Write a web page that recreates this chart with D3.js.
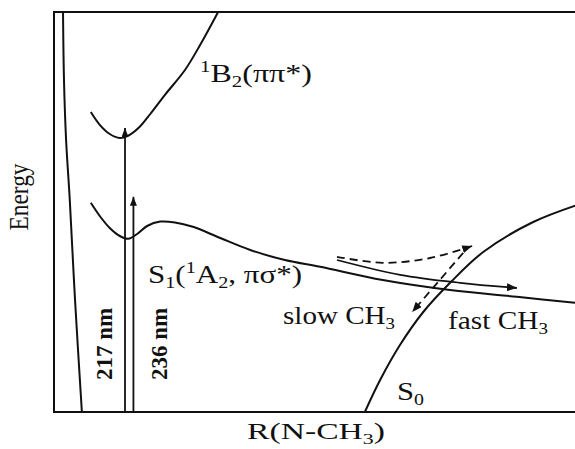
<!DOCTYPE html>
<html><head><meta charset="utf-8">
<script src="https://cdn.jsdelivr.net/npm/d3@7"></script>
<style>
body{margin:0;background:#fff}
text{font-family:"Liberation Serif","Times New Roman",serif;fill:#111}
</style>
</head><body><svg id="c" width="575" height="449"></svg>
<script>
// ---- data (arbitrary units: R along x 0..10, energy along y 0..10) ----
const s0Wall = [[0.17,10.2],[0.19,8.3],[0.23,6.8],[0.30,5.3],[0.40,2.8],[0.53,0]];
const b2Curve = [[0.70,7.50],[0.87,7.18],[1.06,6.95],[1.25,6.85],[1.44,6.93],[1.63,7.13],[1.83,7.45],[2.11,7.93],[2.49,8.55],[2.78,9.18],[3.12,10.0]];
const s1Curve = [[0.70,5.23],[0.87,4.90],[1.06,4.60],[1.25,4.40],[1.41,4.33],[1.58,4.45],[1.77,4.65],[2.02,4.76],[2.30,4.74],[2.64,4.63],[3.16,4.35],[3.73,4.05],[4.39,3.80],[5.06,3.63],[6.25,3.30],[7.53,3.05],[8.80,2.88],[10.0,2.72]];
const s0Curve = [[5.91,0],[6.20,0.80],[6.58,1.68],[7.02,2.50],[7.53,3.23],[8.16,4.00],[9.11,4.75],[10.0,5.20]];
const fastPath = [[5.38,3.80],[6.58,3.43],[7.72,3.23],[8.80,3.10]];
const slowPathA = [[5.38,3.88],[6.25,3.73],[7.15,3.85],[7.95,4.15]];
const slowPathB = [[7.78,3.98],[6.81,2.50]];
const excitations = [{nm:"217 nm", r:1.35, e:7.1},{nm:"236 nm", r:1.51, e:5.38}];
const stateLabels = [
  {key:"B2", parts:[["sup","1"],["","B"],["sub","2"],["","(ππ*)"]]},
  {key:"S1", parts:[["","S"],["sub","1"],["","("],["sup","1"],["","A"],["sub","2"],["",", πσ*)"]]},
  {key:"slow", parts:[["","slow CH"],["sub","3"]]},
  {key:"fast", parts:[["","fast CH"],["sub","3"]]},
  {key:"S0", parts:[["","S"],["sub","0"]]}
];
const xTitle = [["","R(N-CH"],["sub","3"],["",")"]];
const yTitle = "Energy";

// ---- layout ----
const W=575,H=449;
const x = d3.scaleLinear().domain([0,10]).range([54,580]);
const y = d3.scaleLinear().domain([0,10]).range([412,12]);
// [left x, baseline y, text length]
const labelPos = {B2:[200,82,112], S1:[148,283,154], slow:[283,324,112], fast:[448,329,100], S0:[397,400,27]};
const FS=26;

const svg = d3.select("#c");
const defs = svg.append("defs");
defs.append("clipPath").attr("id","frame").append("rect")
  .attr("x",x(0)).attr("y",y(10)).attr("width",W-x(0)).attr("height",y(0)-y(10));
defs.append("marker").attr("id","head").attr("markerUnits","userSpaceOnUse")
  .attr("markerWidth",12).attr("markerHeight",10).attr("refX",10).attr("refY",4)
  .attr("orient","auto").append("path").attr("d","M0,0L10,4L0,8Z").attr("fill","#111");
defs.append("marker").attr("id","vhead").attr("markerUnits","userSpaceOnUse")
  .attr("markerWidth",12).attr("markerHeight",10).attr("refX",9).attr("refY",3.5)
  .attr("orient","auto").append("path").attr("d","M0,0L9,3.5L0,7Z").attr("fill","#111");

const line = d3.line().x(d=>x(d[0])).y(d=>y(d[1])).curve(d3.curveCatmullRom.alpha(0.5));
const g = svg.append("g").attr("clip-path","url(#frame)");
[s0Wall,b2Curve,s1Curve,s0Curve].forEach(c=>{
  g.append("path").attr("d",line(c)).attr("fill","none").attr("stroke","#111").attr("stroke-width",2);
});
svg.append("path").attr("d",line(fastPath)).attr("fill","none").attr("stroke","#111")
  .attr("stroke-width",1.8).attr("marker-end","url(#head)");
[slowPathA,slowPathB].forEach(c=>{
  svg.append("path").attr("d",line(c)).attr("fill","none").attr("stroke","#111")
    .attr("stroke-width",1.8).attr("stroke-dasharray","8,5").attr("marker-end","url(#head)");
});
excitations.forEach(d=>{
  svg.append("line").attr("x1",x(d.r)).attr("x2",x(d.r)).attr("y1",y(0)).attr("y2",y(d.e))
    .attr("stroke","#111").attr("stroke-width",1.8).attr("marker-end","url(#vhead)");
});

// frame
svg.append("path").attr("d",`M${W},${y(10)}H${x(0)}V${y(0)}H${W}`)
  .attr("fill","none").attr("stroke","#111").attr("stroke-width",2);

function rich(t, parts, fs){
  let shift=0;
  parts.forEach(([k,s])=>{
    const sp=t.append("tspan").text(s);
    const target = k==="sup"?-0.38*fs:(k==="sub"?0.2*fs:0);
    sp.attr("dy",target-shift); shift=target;
    if(k) sp.attr("font-size",fs*0.65);
  });
}
stateLabels.forEach(l=>{
  const [px,py,len]=labelPos[l.key];
  const t=svg.append("text").attr("font-size",FS).attr("x",px).attr("y",py)
    .attr("textLength",len).attr("lengthAdjust","spacingAndGlyphs");
  rich(t,l.parts,FS);
});
// x title
const xt=svg.append("text").attr("font-size",24).attr("x",247).attr("y",439)
  .attr("textLength",138).attr("lengthAdjust","spacingAndGlyphs");
rich(xt,xTitle,24);
// y title
svg.append("text").attr("font-size",28).attr("text-anchor","middle")
  .attr("textLength",67).attr("lengthAdjust","spacingAndGlyphs")
  .attr("transform","translate(28,197) rotate(-90)").text(yTitle);
// wavelength labels
const wlPos=[[112,344],[167,344]];
excitations.forEach((d,i)=>{
  svg.append("text").attr("font-size",23).attr("font-weight","bold").attr("text-anchor","middle")
    .attr("textLength",72).attr("lengthAdjust","spacingAndGlyphs")
    .attr("transform",`translate(${wlPos[i][0]},${wlPos[i][1]}) rotate(-90)`).text(d.nm);
});
</script></body></html>
